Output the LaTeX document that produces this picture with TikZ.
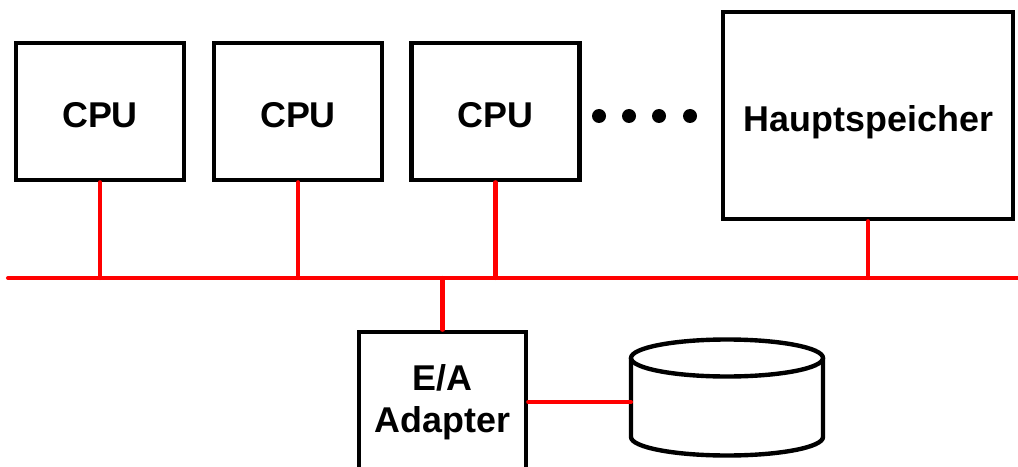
\documentclass[tikz,border=0pt]{standalone}
\usepackage{fontspec}
\setmainfont{Liberation Sans}
\usetikzlibrary{calc}
\tikzset{unit/.style = {draw, line width=2.5pt, minimum width=3.36cm, minimum height=2.74cm,
    font=\fontsize{20.4}{24}\selectfont\bfseries, inner sep=0pt},
  lowtext/.style = {text height=0.74cm, text depth=0.1cm},
  bus/.style = {red, line width=2.3pt, line cap=round},
  dot/.style = {circle, fill, inner sep=0pt, minimum size=0.28cm}}

\begin{document}
\begin{tikzpicture}
\clip (0,0) rectangle (20.36,9.32);
\node [unit, lowtext] (cpu1) at (2,7.09) {CPU};
\node [unit, lowtext] (cpu2) at (5.96,7.09) {CPU};
\node [unit, lowtext] (cpu3) at (9.91,7.09) {CPU};
\foreach \x [count=\i] in {11.98,12.58,13.18,13.8}
  \node [dot] (d\i) at (\x,7) {};
\node [unit, lowtext, minimum width=5.8cm, minimum height=4.14cm, text width=5cm, align=right] (mem) at (17.36,7.01) {Hauptspeicher};
\node [unit, minimum width=3.34cm, minimum height=2.8cm, align=center] (adapter) at (8.85,1.28) {E/A\\Adapter};
% Platte
\draw [line width=2.5pt] (14.54,2.16) ellipse [x radius=1.92, y radius=0.37];
\draw [line width=2.5pt] (12.62,2.16) -- (12.62,0.58) arc [start angle=180, end angle=360, x radius=1.92, y radius=0.37] -- (16.46,2.16);
\coordinate (disk) at (12.62,1.28);
% Bus
\coordinate (busL) at (0.16,3.76);
\coordinate (busR) at (20.5,3.76);
\draw [bus] (busL) -- (busR);
\foreach \n in {cpu1, cpu2, cpu3, mem}
  \draw [bus] (\n.south) -- (\n.south |- busL);
\draw [bus] (adapter.north) -- (adapter.north |- busL);
\draw [bus] (disk) -- (disk -| adapter.east);
\end{tikzpicture}
\end{document}
